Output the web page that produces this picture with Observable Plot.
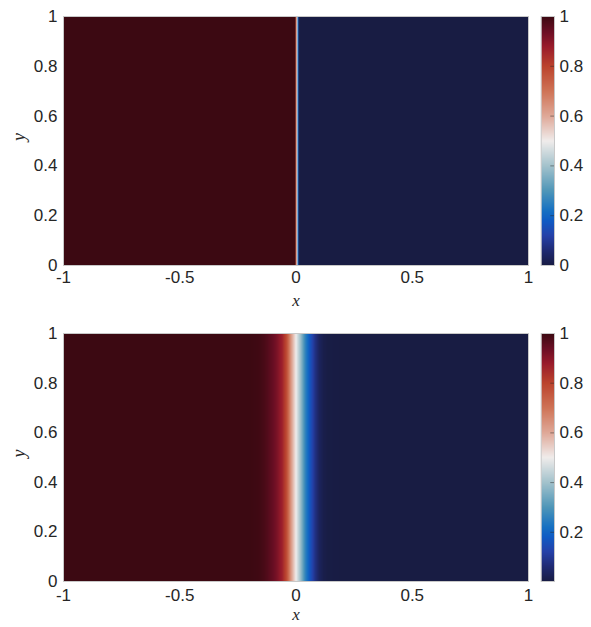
<!DOCTYPE html>
<html>
<head>
<meta charset="utf-8">
<script src="https://cdn.jsdelivr.net/npm/d3@7"></script>
<script src="https://cdn.jsdelivr.net/npm/@observablehq/plot@0.6"></script>
<style>
  body { margin: 0; background: #fff; }
  #chart { position: relative; width: 591px; height: 627px; }
  #chart > div, #chart > svg { position: absolute; }
</style>
</head>
<body>
<div id="chart"></div>
<script>
// ---- data ----
// top panel: sharp step profile u(x) (constant in y)
const xsTop = [-1, -0.004, -0.002, 0, 0.002, 0.004, 0.006, 0.008, 0.010, 0.012, 0.014, 1];
const uTop  = [1, 1, 0.9, 0.75, 0.6, 0.5, 0.4, 0.25, 0.12, 0.03, 0, 0];
// bottom panel: smoothed profile u(x)
const xsBottom = [-1, -0.2, -0.16, -0.14, -0.12, -0.10, -0.08, -0.06, -0.04, -0.02, 0, 0.02, 0.04, 0.06, 0.08, 0.10, 0.12, 0.14, 0.2, 1];
const uBottom  = [1, 1, 0.995, 0.985, 0.968, 0.945, 0.915, 0.87, 0.78, 0.62, 0.5, 0.39, 0.26, 0.17, 0.09, 0.035, 0.012, 0.005, 0.002, 0.002];
const yRows = [0, 1];
const xTicks = [-1, -0.5, 0, 0.5, 1];
const yTicks = [0, 0.2, 0.4, 0.6, 0.8, 1];
const cbTicksTop = [0, 0.2, 0.4, 0.6, 0.8, 1];
const cbTicksBottom = [0.2, 0.4, 0.6, 0.8, 1];
const cbRangeTop = [0, 1];
const cbRangeBottom = [0.002, 1];

// ---- colormap (cmocean "balance"-like) ----
const cmapT = [0, 0.06, 0.12, 0.18, 0.22, 0.30, 0.40, 0.50, 0.60, 0.70, 0.80, 0.88, 0.94, 1];
const cmapC = ["#181c43", "#1f2a72", "#2540a8", "#0f5bc4", "#1670c2", "#4f96b8", "#a3c2cc", "#f0eceb", "#dfa898", "#cf7356", "#bb432d", "#981b2b", "#6a0e24", "#3c0912"];
const balance = d3.scaleLinear().domain(cmapT).range(cmapC).interpolate(d3.interpolateRgb).clamp(true);

const ink = "#262626";
const font = "'Liberation Sans', Arial, sans-serif";
const serif = "'Liberation Serif', 'DejaVu Serif', serif";

function grid(xs, vals) {
  return yRows.flatMap(y => xs.map((x, i) => ({x, y, u: vals[i]})));
}

function panel(xs, vals, cbRange, cbTicks, top, height, mTop, mBottom, tickPad, labelDy) {
  const chart = document.getElementById("chart");
  const colorOpts = {type: "linear", domain: cbRange, interpolate: balance};
  const main = Plot.plot({
    width: 591, height,
    marginTop: mTop, marginBottom: mBottom, marginLeft: 63, marginRight: 63,
    style: {fontFamily: font, fontSize: "17px", color: ink, background: "transparent"},
    x: {domain: [-1, 1], label: null},
    y: {domain: [0, 1], label: null},
    color: colorOpts,
    marks: [
      Plot.raster(grid(xs, vals), {x: "x", y: "y", fill: "u", interpolate: "barycentric", x1: -1, x2: 1, y1: 0, y2: 1}),
      Plot.frame({stroke: "#c8c8c8", strokeWidth: 1}),
      Plot.axisX(xTicks, {tickSize: 0, tickPadding: tickPad, tickFormat: d => String(d), fontSize: 17, fill: ink, label: null}),
      Plot.axisY(yTicks, {tickSize: 0, tickPadding: 6, tickFormat: d => String(d), fontSize: 17, fill: ink, label: null}),
      Plot.text(["x"], {frameAnchor: "bottom", dy: labelDy, fontStyle: "italic", fontFamily: serif, fontSize: 17, fill: ink}),
      Plot.text(["y"], {frameAnchor: "left", dx: -44, rotate: -90, fontStyle: "italic", fontFamily: serif, fontSize: 18, fill: ink})
    ]
  });
  main.style.left = "0px";
  main.style.top = top + "px";
  chart.appendChild(main);

  const cb = Plot.plot({
    width: 71, height,
    marginTop: mTop, marginBottom: mBottom, marginLeft: 20.7, marginRight: 37,
    style: {fontFamily: font, fontSize: "17px", color: ink, background: "transparent", overflow: "visible"},
    x: {domain: [0, 1], axis: null},
    y: {domain: cbRange, axis: null},
    color: colorOpts,
    marks: [
      Plot.raster({fill: (x, y) => y, x1: 0, x2: 1, y1: cbRange[0], y2: cbRange[1]}),
      Plot.ruleY(cbTicks, {x1: 0.72, x2: 1, stroke: ink, strokeWidth: 0.8, strokeOpacity: 0.6}),
      Plot.frame({stroke: "#c8c8c8", strokeWidth: 1}),
      Plot.axisY(cbTicks, {anchor: "right", tickSize: 0, tickPadding: 5, tickFormat: d => String(d), fontSize: 17, fill: ink, label: null})
    ]
  });
  cb.style.left = "520px";
  cb.style.top = top + "px";
  chart.appendChild(cb);
}

panel(xsTop, uTop, cbRangeTop, cbTicksTop, 0, 313, 16, 48, 5, 40);
panel(xsBottom, uBottom, cbRangeBottom, cbTicksBottom, 313, 314, 20, 46, 7, 38);
</script>
</body>
</html>
